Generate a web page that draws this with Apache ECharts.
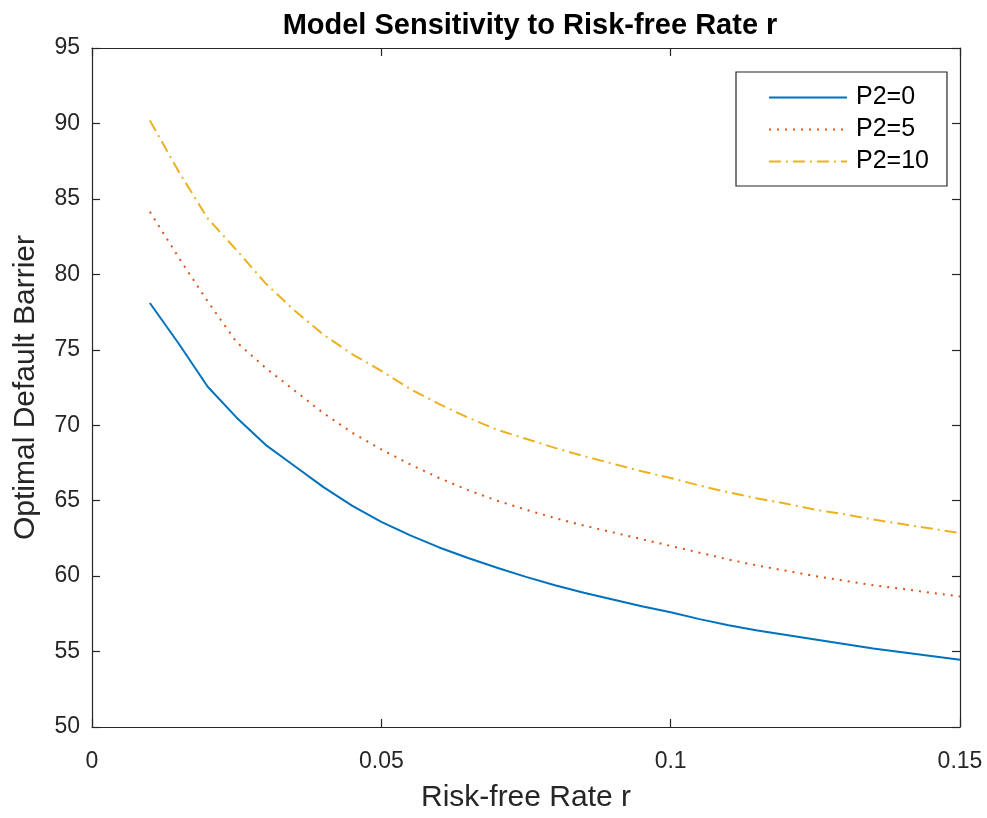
<!DOCTYPE html>
<html>
<head>
<meta charset="utf-8">
<script src="https://cdn.jsdelivr.net/npm/echarts@6/dist/echarts.min.js"></script>
<style>
  html, body { margin: 0; padding: 0; background: #ffffff; }
  #chart { width: 987px; height: 818px; }
</style>
</head>
<body>
<div id="chart"></div>
<script>
// Risk-free rate grid
const rates = [
  0.010, 0.015, 0.020, 0.025, 0.030, 0.035, 0.040, 0.045, 0.050, 0.055,
  0.060, 0.065, 0.070, 0.075, 0.080, 0.085, 0.090, 0.095, 0.100, 0.105,
  0.110, 0.115, 0.120, 0.125, 0.130, 0.135, 0.140, 0.145, 0.150
];

// Optimal default barrier for each P2 level
const barrierP2_0 = [
  78.10, 75.40, 72.55, 70.50, 68.70, 67.30, 65.90, 64.65, 63.60, 62.70,
  61.90, 61.20, 60.55, 59.95, 59.40, 58.90, 58.45, 58.00, 57.60, 57.15,
  56.75, 56.40, 56.10, 55.80, 55.50, 55.20, 54.95, 54.70, 54.45
];
const barrierP2_5 = [
  84.15, 81.10, 78.20, 75.50, 73.80, 72.30, 70.80, 69.50, 68.40, 67.40,
  66.50, 65.70, 65.00, 64.40, 63.85, 63.35, 62.90, 62.45, 62.00, 61.55,
  61.10, 60.70, 60.35, 60.00, 59.70, 59.40, 59.15, 58.90, 58.65
];
const barrierP2_10 = [
  90.20, 86.80, 83.70, 81.60, 79.40, 77.60, 76.00, 74.70, 73.60, 72.40,
  71.40, 70.50, 69.70, 69.10, 68.50, 67.95, 67.45, 66.95, 66.50, 66.00,
  65.55, 65.15, 64.80, 64.40, 64.10, 63.75, 63.45, 63.15, 62.85
];

const seriesNames = ['P2=0', 'P2=5', 'P2=10'];

// Axis ticks
const xTicks = [0, 0.05, 0.1, 0.15];
const yTicks = [50, 55, 60, 65, 70, 75, 80, 85, 90, 95];

const axisColor = '#262626';
const fontFamily = '"Liberation Sans", Arial, Helvetica, sans-serif';

function pairs(values) {
  return rates.map((r, i) => [r, values[i]]);
}

function fmtX(v) {
  return String(parseFloat(v.toFixed(4)));
}

const chart = echarts.init(document.getElementById('chart'), null, { renderer: 'canvas' });

const baseX = {
  type: 'value',
  min: xTicks[0],
  max: xTicks[xTicks.length - 1],
  interval: 0.05,
  axisLine: { show: true, onZero: false, lineStyle: { color: axisColor, width: 1.2 } },
  axisTick: { show: true, inside: true, length: 8, lineStyle: { color: axisColor, width: 1.2 } },
  splitLine: { show: false }
};
const baseY = {
  type: 'value',
  min: yTicks[0],
  max: yTicks[yTicks.length - 1],
  interval: 5,
  axisLine: { show: true, onZero: false, lineStyle: { color: axisColor, width: 1.2 } },
  axisTick: { show: true, inside: true, length: 8, lineStyle: { color: axisColor, width: 1.2 } },
  splitLine: { show: false }
};

const option = {
  backgroundColor: '#ffffff',
  animation: false,
  title: {
    text: 'Model Sensitivity to Risk-free Rate r',
    left: 525,
    textAlign: 'center',
    top: 6,
    textStyle: { fontFamily, fontSize: 29, fontWeight: 'bold', color: '#000000' }
  },
  grid: { left: 92, right: 27, top: 48, bottom: 85, containLabel: false },
  legend: {
    data: seriesNames,
    orient: 'vertical',
    left: 736,
    top: 72,
    padding: [13, 18, 12, 32],
    itemGap: 7,
    itemWidth: 78,
    itemHeight: 25,
    borderColor: axisColor,
    borderWidth: 1.2,
    backgroundColor: '#ffffff',
    itemStyle: { opacity: 0 },
    textStyle: { fontFamily, fontSize: 25, color: '#000000', padding: [0, 0, 0, 4] }
  },
  xAxis: [
    Object.assign({}, baseX, {
      position: 'bottom',
      name: 'Risk-free Rate r',
      nameLocation: 'middle',
      nameGap: 56,
      nameTextStyle: { fontFamily, fontSize: 30, color: axisColor },
      axisLabel: { show: true, margin: 23, fontFamily, fontSize: 23, color: axisColor, formatter: fmtX }
    }),
    Object.assign({}, baseX, { position: 'top', axisLabel: { show: false } })
  ],
  yAxis: [
    Object.assign({}, baseY, {
      position: 'left',
      name: 'Optimal Default Barrier',
      nameLocation: 'middle',
      nameGap: 51,
      nameRotate: 90,
      nameTextStyle: { fontFamily, fontSize: 30, color: axisColor },
      axisLabel: { show: true, margin: 12, fontFamily, fontSize: 23, color: axisColor }
    }),
    Object.assign({}, baseY, { position: 'right', axisLabel: { show: false } })
  ],
  series: [
    {
      name: seriesNames[0],
      type: 'line',
      data: pairs(barrierP2_0),
      showSymbol: false,
      symbol: 'none',
      lineStyle: { color: '#0072BD', width: 2, type: 'solid' },
      itemStyle: { color: '#0072BD' }
    },
    {
      name: seriesNames[1],
      type: 'line',
      data: pairs(barrierP2_5),
      showSymbol: false,
      symbol: 'none',
      lineStyle: { color: '#D95319', width: 2, type: [2, 6] },
      itemStyle: { color: '#D95319' }
    },
    {
      name: seriesNames[2],
      type: 'line',
      data: pairs(barrierP2_10),
      showSymbol: false,
      symbol: 'none',
      lineStyle: { color: '#EDB120', width: 2, type: [12, 5, 2, 5] },
      itemStyle: { color: '#EDB120' }
    }
  ]
};

chart.setOption(option);
</script>
</body>
</html>
